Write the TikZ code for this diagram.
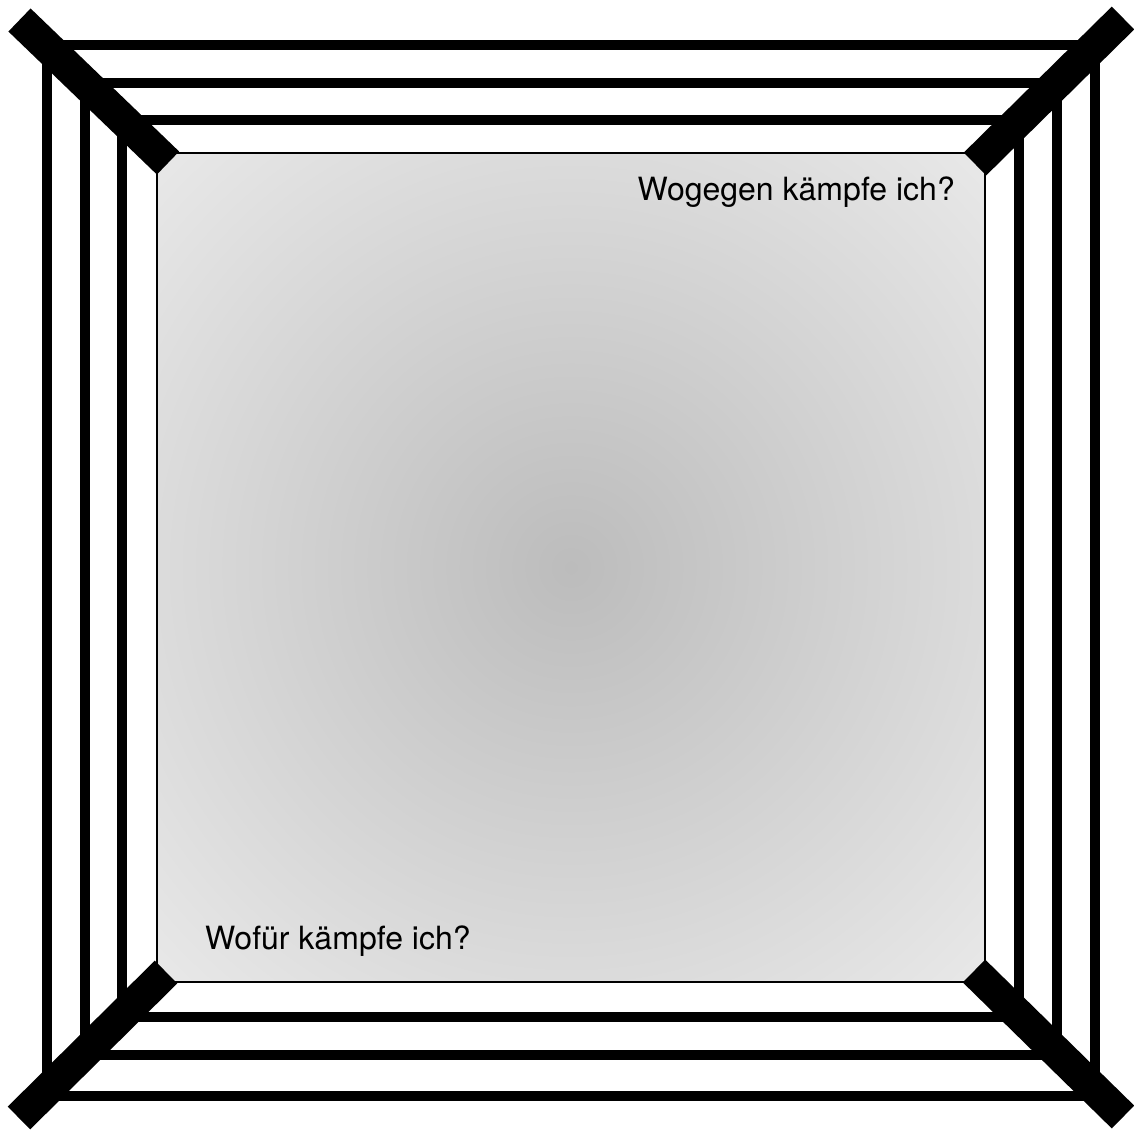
\documentclass[tikz,border=0pt]{standalone}
\usepackage{fontspec}
\setmainfont{TeX Gyre Heros}
\usepackage{tikz}
\usetikzlibrary{positioning}

\definecolor{ringcenter}{HTML}{BCBCBC}
\definecolor{ringedge}{HTML}{E8E8E8}
\definecolor{ringcorner}{HTML}{ECECEC}
\pgfdeclareradialshading{ringglow}{\pgfpointorigin}{color(0bp)=(ringcenter); color(35bp)=(ringedge); color(50bp)=(ringcorner)}

\begin{document}
\begin{tikzpicture}[
            x=1pt, y=-1pt,
            canvas/.style={draw=black, line width=1.5pt, shading=ringglow},
            rope/.style={draw=black, line width=10pt},
            post/.style={draw=black, line width=32pt},
            label/.style={inner sep=0pt, font=\fontsize{32}{38}\selectfont}
        ]
            \useasboundingbox (0,0) rectangle (1134,1129);

            % Canvas (ring floor)
            \path[canvas] (157,153) rectangle (985,982);

            % Ropes
            \draw[rope] (47,45) rectangle (1095,1096);
            \draw[rope] (85,83) rectangle (1057,1055);
            \draw[rope] (122,120) rectangle (1019,1017);

            % Corner posts
            \draw[post] (19.5,20) -- (168,163);
            \draw[post] (1123,18) -- (975,164);
            \draw[post] (19,1118) -- (166,972);
            \draw[post] (1123,1117) -- (974,971);

            % Questions
            \node[label, anchor=base east] (against) at (955,200) {Wogegen kämpfe ich?};
            \node[label, anchor=base west] (for) at (205,949) {Wofür kämpfe ich?};

        \end{tikzpicture}
\end{document}
